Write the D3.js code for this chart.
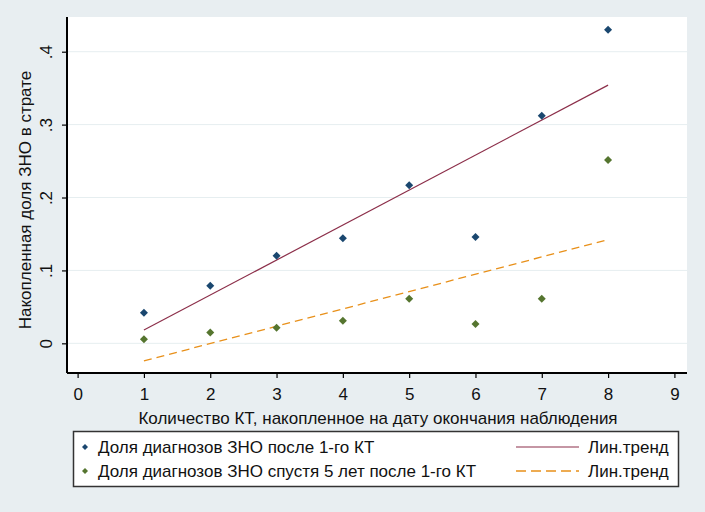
<!DOCTYPE html>
<html><head><meta charset="utf-8">
<script src="https://cdn.jsdelivr.net/npm/d3@7"></script>
<style>body{margin:0;background:#e8eef1;}svg{display:block;font-family:"Liberation Sans",Arial,sans-serif;}</style>
</head><body><svg id="c" width="705" height="512"></svg>
<script>
const xValues = [1, 2, 3, 4, 5, 6, 7, 8];
const seriesAfterFirst = [0.042, 0.079, 0.120, 0.144, 0.2167, 0.1458, 0.312, 0.430];
const seriesAfter5y = [0.0055, 0.015, 0.0214, 0.031, 0.061, 0.0265, 0.061, 0.2514];
const xTicks = [0,1,2,3,4,5,6,7,8,9];
const yTicks = [0, 0.1, 0.2, 0.3, 0.4];
const yTickLabels = ["0", ".1", ".2", ".3", ".4"];
const legendLabels = ["Доля диагнозов ЗНО после 1-го КТ", "Доля диагнозов ЗНО спустя 5 лет после 1-го КТ"];
const trendLabel = "Лин.тренд";
const xTitle = "Количество КТ, накопленное на дату окончания наблюдения";
const yTitle = "Накопленная доля ЗНО в страте";

const svg = d3.select("#c");
const L = 67, R = 687, T = 17, B = 373;
const x = d3.scaleLinear().domain([-0.16, 9.19]).range([L, R]);
const y = d3.scaleLinear().domain([-0.0407, 0.4476]).range([B, T]);
const FS = 17;

svg.append("rect").attr("width",705).attr("height",512).attr("fill","#e8eef1");
svg.append("rect").attr("x",L).attr("y",T).attr("width",R-L).attr("height",B-T).attr("fill","#fff");

// grid
svg.append("g").selectAll("line").data(yTicks).join("line")
  .attr("x1",L).attr("x2",R).attr("y1",d=>y(d)).attr("y2",d=>y(d))
  .attr("stroke","#e6eef0").attr("stroke-width",1);

// linear fit
function fit(xs, ys){
  const mx=d3.mean(xs), my=d3.mean(ys);
  let sxy=0,sxx=0; xs.forEach((v,i)=>{sxy+=(v-mx)*(ys[i]-my); sxx+=(v-mx)*(v-mx);});
  const b=sxy/sxx, a=my-b*mx; return v=>a+b*v;
}
const f1 = fit(xValues, seriesAfterFirst), f2 = fit(xValues, seriesAfter5y);
const x0 = d3.min(xValues), x1 = d3.max(xValues);
svg.append("line").attr("x1",x(x0)).attr("x2",x(x1)).attr("y1",y(f1(x0))).attr("y2",y(f1(x1)))
  .attr("stroke","#8c2f4a").attr("stroke-width",1.2);
svg.append("line").attr("x1",x(x0)).attr("x2",x(x1)).attr("y1",y(f2(x0))).attr("y2",y(f2(x1)))
  .attr("stroke","#e8901a").attr("stroke-width",1.3).attr("stroke-dasharray","8,5");

function dia(s){ return `M0,${-s}L${s},0L0,${s}L${-s},0Z`; }
svg.append("g").selectAll("path").data(xValues).join("path")
  .attr("d",dia(4)).attr("transform",(d,i)=>`translate(${x(d)},${y(seriesAfterFirst[i])})`).attr("fill","#1a476f");
svg.append("g").selectAll("path").data(xValues).join("path")
  .attr("d",dia(4)).attr("transform",(d,i)=>`translate(${x(d)},${y(seriesAfter5y[i])})`).attr("fill","#55752f");

// axes
const xa = svg.append("g").attr("transform",`translate(0,${B})`)
  .call(d3.axisBottom(x).tickValues(xTicks).tickFormat(d3.format("d")).tickSize(5).tickSizeOuter(0));
xa.select(".domain").attr("d",`M${L},0H${R}`).attr("stroke","#000").attr("stroke-width",2);
xa.selectAll(".tick line").attr("stroke","#000").attr("stroke-width",1.2);
xa.selectAll(".tick text").attr("font-size",FS).attr("font-family","Liberation Sans, Arial").attr("fill","#111")
  .attr("y",21).attr("dy","0.35em");

const ya = svg.append("g").attr("transform",`translate(${L},0)`)
  .call(d3.axisLeft(y).tickValues(yTicks).tickFormat((d,i)=>yTickLabels[i]).tickSize(5).tickSizeOuter(0));
ya.select(".domain").attr("d",`M0,${T}V${B}`).attr("stroke","#000").attr("stroke-width",2);
ya.selectAll(".tick line").attr("stroke","#000").attr("stroke-width",1.2);
ya.selectAll(".tick text").attr("font-size",FS).attr("font-family","Liberation Sans, Arial").attr("fill","#111")
  .attr("text-anchor","middle").attr("x",0).attr("dy",0)
  .attr("transform","translate(-19,0) rotate(-90)").attr("dominant-baseline","middle");

svg.append("text").attr("x",378).attr("y",424).attr("text-anchor","middle")
  .attr("font-size",FS).attr("fill","#111").text(xTitle);
svg.append("text").attr("transform",`translate(31,${200}) rotate(-90)`).attr("text-anchor","middle")
  .attr("font-size",FS).attr("fill","#111").text(yTitle);

// legend
const lg = svg.append("g");
lg.append("rect").attr("x",73.5).attr("y",431.5).attr("width",605).attr("height",55)
  .attr("fill","#fff").attr("stroke","#333").attr("stroke-width",1.5);
const rows = [447, 471];
const cols = ["#1a476f","#55752f"];
rows.forEach((ry,i)=>{
  lg.append("path").attr("d",dia(3)).attr("transform",`translate(85,${ry})`).attr("fill",cols[i]);
  lg.append("text").attr("x",98).attr("y",ry).attr("dy","0.35em").attr("font-size",FS).attr("fill","#111").text(legendLabels[i]);
  lg.append("text").attr("x",588).attr("y",ry).attr("dy","0.35em").attr("font-size",FS).attr("fill","#111").text(trendLabel);
});
lg.append("line").attr("x1",516).attr("x2",579).attr("y1",rows[0]).attr("y2",rows[0]).attr("stroke","#8c2f4a").attr("stroke-width",1.2);
lg.append("line").attr("x1",516).attr("x2",579).attr("y1",rows[1]).attr("y2",rows[1]).attr("stroke","#e8901a").attr("stroke-width",1.3).attr("stroke-dasharray","10,5");
</script></body></html>
